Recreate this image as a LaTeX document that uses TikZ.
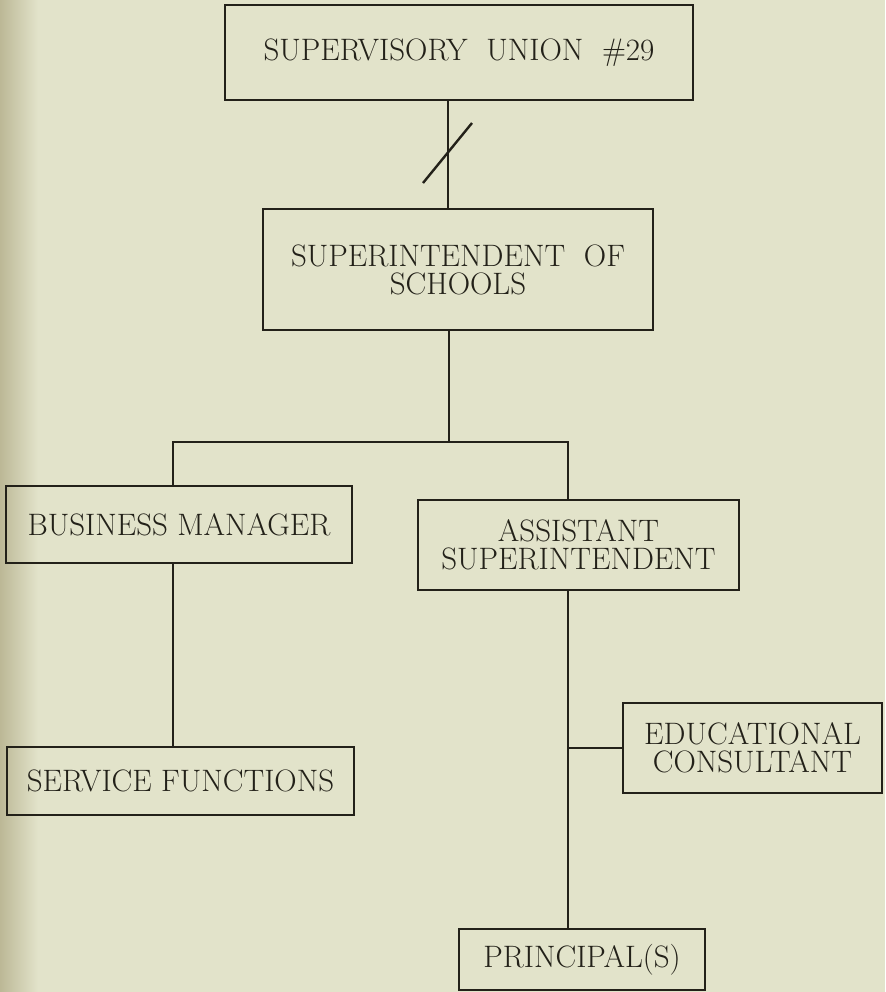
\documentclass[tikz,border=0pt]{standalone}
\usepackage{fontspec}
\usepackage{tikz}
\usetikzlibrary{calc}

\definecolor{paper}{RGB}{226,227,202}
\definecolor{spine}{RGB}{188,184,150}
\definecolor{ink}{RGB}{35,33,25}
\newcommand\chartfont{\fontsize{15.5}{14}\selectfont\addfontfeature{LetterSpace=3.5,FakeBold=1.2}}

\tikzset{
  orgbox/.style={draw=ink, line width=1.2pt, align=center, inner sep=0pt,
    text=ink, font=\chartfont},
  orgline/.style={draw=ink, line width=1.2pt}
}

\begin{document}
\begin{tikzpicture}[x=0.5pt,y=-0.5pt]
  \fill[paper] (0,0) rectangle (885,992);
  \shade[left color=spine, right color=paper] (0,0) rectangle (38,992);
  \useasboundingbox (0,0) rectangle (885,992);

  \node[orgbox, minimum width=234pt, minimum height=47.5pt] (union) at (459,52.5) {SUPERVISORY\ \ UNION\ \ \#29};
  \node[orgbox, minimum width=195pt, minimum height=60.5pt] (supt) at (458,269.5) {SUPERINTENDENT\ \ OF\\SCHOOLS};
  \node[orgbox, minimum width=173pt, minimum height=38.5pt] (bus) at (179,524.5) {BUSINESS MANAGER};
  \node[orgbox, minimum width=160.5pt, minimum height=45pt] (asst) at (578.5,545) {ASSISTANT\\SUPERINTENDENT};
  \node[orgbox, minimum width=173.5pt, minimum height=34pt] (svc) at (180.5,781) {SERVICE FUNCTIONS};
  \node[orgbox, minimum width=129.5pt, minimum height=45pt] (edu) at (752.5,748) {EDUCATIONAL\\CONSULTANT};
  \node[orgbox, minimum width=123pt, minimum height=30.5pt] (prin) at (582,959.5) {PRINCIPAL(S)};

  \coordinate (top) at (448,0);
  \coordinate (fork) at (449,442);
  \coordinate (bline) at (173,0);
  \coordinate (aline) at (568,0);
  \coordinate (cut) at (448,153);

  \draw[orgline] (union.south -| top) -- (supt.north -| top);
  \draw[orgline] (cut) +(-25,30) -- +(24,-30);
  \draw[orgline] (supt.south -| fork) -- (fork);
  \draw[orgline] (bus.north -| bline) |- (fork) -| (asst.north -| aline);
  \draw[orgline] (bus.south -| bline) -- (svc.north -| bline);
  \draw[orgline] (asst.south -| aline) -- (prin.north -| aline);
  \draw[orgline] (edu.west) -- (edu.west -| aline);
\end{tikzpicture}
\end{document}
